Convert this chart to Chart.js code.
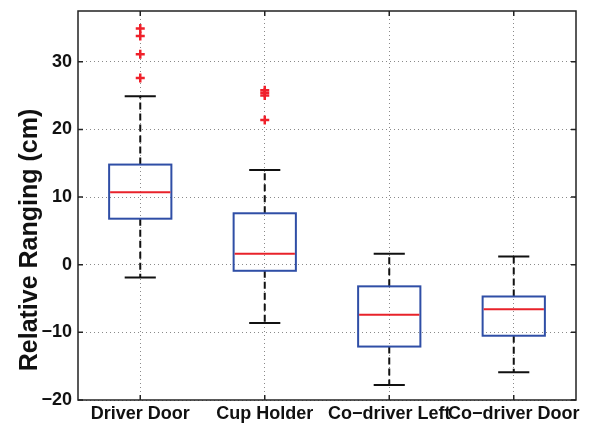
<!DOCTYPE html>
<html>
<head>
<meta charset="utf-8">
<script src="https://cdn.jsdelivr.net/npm/chart.js@4/dist/chart.umd.min.js"></script>
<style>
  body { margin: 0; background: #fff; }
</style>
</head>
<body>
<canvas id="boxChart" width="589" height="426"></canvas>
<script>
// カテゴリと箱ひげ図の値
const categories = ['Driver Door', 'Cup Holder', 'Co\u2212driver Left', 'Co\u2212driver Door'];
const whiskerLow = [-1.9, -8.6, -17.8, -15.9];
const q1 = [6.8, -0.9, -12.1, -10.5];
const medians = [10.7, 1.6, -7.4, -6.6];
const q3 = [14.8, 7.6, -3.2, -4.7];
const whiskerHigh = [24.9, 14.0, 1.6, 1.2];
const outliers = [
  [27.6, 31.1, 33.8, 34.9],
  [21.4, 25.0, 25.4, 25.8],
  [],
  [],
];
const yTicks = [-20, -10, 0, 10, 20, 30];
const yTitle = 'Relative Ranging (cm)';

// 外れ値を散布図用の点に変換
const outlierPoints = [];
outliers.forEach((vals, i) => {
  vals.forEach(v => outlierPoints.push({ x: i + 1, y: v }));
});

// 箱・ひげ・枠・内向き目盛り・縦軸タイトルを描くプラグイン
const boxPlotPlugin = {
  id: 'boxPlot',
  beforeDatasetsDraw(chart) {
    const { ctx, scales: { x, y } } = chart;
    const boxHalf = 0.25;
    const capHalf = 0.125;
    ctx.save();
    for (let i = 0; i < categories.length; i++) {
      const cx = x.getPixelForValue(i + 1);
      // ひげ（破線）
      ctx.strokeStyle = '#111';
      ctx.lineWidth = 2;
      ctx.setLineDash([7, 4]);
      ctx.beginPath();
      ctx.moveTo(cx, y.getPixelForValue(q3[i]));
      ctx.lineTo(cx, y.getPixelForValue(whiskerHigh[i]));
      ctx.moveTo(cx, y.getPixelForValue(q1[i]));
      ctx.lineTo(cx, y.getPixelForValue(whiskerLow[i]));
      ctx.stroke();
      ctx.setLineDash([]);
      // ひげの端
      const cl = x.getPixelForValue(i + 1 - capHalf);
      const cr = x.getPixelForValue(i + 1 + capHalf);
      ctx.beginPath();
      [whiskerHigh[i], whiskerLow[i]].forEach(v => {
        const py = y.getPixelForValue(v);
        ctx.moveTo(cl, py);
        ctx.lineTo(cr, py);
      });
      ctx.stroke();
      // 箱
      const bl = x.getPixelForValue(i + 1 - boxHalf);
      const br = x.getPixelForValue(i + 1 + boxHalf);
      const top = y.getPixelForValue(q3[i]);
      const bot = y.getPixelForValue(q1[i]);
      ctx.strokeStyle = '#2f4ea6';
      ctx.strokeRect(bl, top, br - bl, bot - top);
      // 中央値
      ctx.strokeStyle = '#e8222a';
      ctx.beginPath();
      const my = y.getPixelForValue(medians[i]);
      ctx.moveTo(bl + 1, my);
      ctx.lineTo(br - 1, my);
      ctx.stroke();
    }
    ctx.restore();
  },
  afterDraw(chart) {
    const { ctx, chartArea: a, scales: { x, y } } = chart;
    ctx.save();
    ctx.strokeStyle = '#222';
    ctx.lineWidth = 1.5;
    ctx.strokeRect(a.left, a.top, a.right - a.left, a.bottom - a.top);
    ctx.beginPath();
    const tl = 5;
    yTicks.forEach(v => {
      const py = y.getPixelForValue(v);
      ctx.moveTo(a.left, py); ctx.lineTo(a.left + tl, py);
      ctx.moveTo(a.right, py); ctx.lineTo(a.right - tl, py);
    });
    categories.forEach((c, i) => {
      const px = x.getPixelForValue(i + 1);
      ctx.moveTo(px, a.bottom); ctx.lineTo(px, a.bottom - tl);
      ctx.moveTo(px, a.top); ctx.lineTo(px, a.top + tl);
    });
    ctx.stroke();
    // 縦軸タイトル（元図では少し下寄り）
    ctx.translate(30, 240);
    ctx.rotate(-Math.PI / 2);
    ctx.fillStyle = '#111';
    ctx.font = 'bold 25px "Liberation Sans"';
    ctx.textAlign = 'center';
    ctx.textBaseline = 'middle';
    ctx.fillText(yTitle, 0, 0);
    ctx.restore();
  },
};

const ctx = document.getElementById('boxChart').getContext('2d');
const chart = new Chart(ctx, {
  type: 'scatter',
  data: {
    datasets: [{
      data: outlierPoints,
      pointStyle: 'cross',
      radius: 4.5,
      borderWidth: 2.5,
      borderColor: '#f0202a',
      backgroundColor: '#f0202a',
    }],
  },
  options: {
    responsive: false,
    animation: false,
    devicePixelRatio: 1,
    layout: { padding: { top: 11, right: 13, left: 0, bottom: 0 } },
    plugins: {
      legend: { display: false },
      tooltip: { enabled: false },
    },
    scales: {
      x: {
        type: 'linear',
        min: 0.5,
        max: 4.5,
        afterBuildTicks: scale => {
          scale.ticks = categories.map((c, i) => ({ value: i + 1 }));
        },
        afterFit: scale => {
          scale.height = 26;
          scale.paddingLeft = 0;
          scale.paddingRight = 0;
        },
        ticks: {
          callback: v => categories[v - 1],
          color: '#111',
          font: { family: 'Liberation Sans', size: 18, weight: 'bold' },
          padding: 3,
          maxRotation: 0,
          autoSkip: false,
        },
        grid: { color: '#8a8a8a', lineWidth: 1, drawTicks: false },
        border: { display: false, dash: [1, 3] },
      },
      y: {
        min: -20,
        max: 37.5,
        afterBuildTicks: scale => {
          scale.ticks = yTicks.map(v => ({ value: v }));
        },
        afterFit: scale => {
          scale.width = 78;
          scale.paddingTop = 0;
          scale.paddingBottom = 0;
        },
        ticks: {
          callback: v => String(v).replace('-', '\u2212'),
          color: '#111',
          font: { family: 'Liberation Sans', size: 18, weight: 'bold' },
          padding: 6,
        },
        grid: { color: '#8a8a8a', lineWidth: 1, drawTicks: false },
        border: { display: false, dash: [1, 3] },
      },
    },
  },
  plugins: [boxPlotPlugin],
});
</script>
</body>
</html>
